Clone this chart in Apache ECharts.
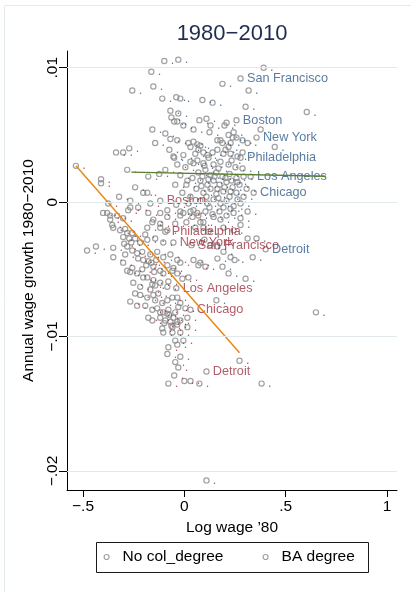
<!DOCTYPE html>
<html>
<head>
<meta charset="utf-8">
<script src="https://cdn.jsdelivr.net/npm/echarts@6/dist/echarts.min.js"></script>
<style>
  html, body { margin: 0; padding: 0; background: #ffffff; }
  #chart { width: 411px; height: 592px; }
</style>
</head>
<body>
<div id="chart"></div>
<script>
// Metro areas: log wage in 1980 vs annual wage growth 1980–2010, by education group.

const cityNames = ['San Francisco', 'Boston', 'New York', 'Philadelphia', 'Los Angeles', 'Chicago', 'Detroit'];

// Named metros, BA degree group
const baCityX = [0.277, 0.257, 0.356, 0.277, 0.327, 0.342, 0.401];
const baCityY = [0.0092, 0.0061, 0.0048, 0.0033, 0.0019, 0.0007, -0.0035];

// Named metros, no college degree group
const noColCityX = [0.035, -0.119, -0.054, -0.094, -0.040, 0.030, 0.109];
const noColCityY = [-0.0032, 0.0001, -0.0030, -0.0022, -0.0064, -0.0080, -0.0126];

// Remaining metros, BA degree group [log wage '80, annual growth]
const baPoints = [
  [-0.099,0.0105],[-0.030,0.0106],[0.391,0.0100],[-0.163,0.0097],[0.188,0.0088],[-0.257,0.0083],[-0.153,0.0086],
  [0.317,0.0083],[-0.109,0.0077],[-0.040,0.0078],[-0.020,0.0077],[0.089,0.0076],[0.139,0.0074],[0.302,0.0071],
  [0.604,0.0067],[-0.069,0.0068],[-0.030,0.0066],[-0.064,0.0063],[-0.050,0.0060],[-0.035,0.0060],[0.074,0.0061],
  [0.109,0.0062],[0.208,0.0059],[0.198,0.0057],[-0.005,0.0057],[0.045,0.0054],[0.129,0.0057],[0.124,0.0052],
  [-0.158,0.0054],[-0.094,0.0051],[-0.144,0.0044],[0.020,0.0044],[0.045,0.0045],[0.064,0.0043],[0.178,0.0046],
  [0.218,0.0050],[0.243,0.0052],[0.257,0.0048],[0.188,0.0044],[0.228,0.0044],[0.287,0.0046],[0.376,0.0054],
  [0.446,0.0041],[-0.069,0.0047],[-0.035,0.0046],[0.079,0.0042],[0.163,0.0046],[0.238,0.0048],[0.069,0.0039],
  [0.094,0.0037],[0.119,0.0033],[0.163,0.0039],[0.203,0.0039],[0.228,0.0036],[0.287,0.0037],[0.030,0.0030],
  [0.064,0.0031],[-0.005,0.0035],[-0.054,0.0034],[0.030,0.0041],[0.054,0.0036],[0.114,0.0035],[0.139,0.0037],
  [0.193,0.0036],[0.218,0.0041],[0.312,0.0044],[-0.035,0.0028],[0.005,0.0026],[0.045,0.0029],[0.094,0.0029],
  [0.144,0.0028],[0.178,0.0030],[0.218,0.0028],[0.252,0.0026],[0.287,0.0025],[0.069,0.0022],[0.104,0.0024],
  [0.129,0.0020],[0.158,0.0022],[0.188,0.0019],[0.223,0.0021],[0.257,0.0018],[0.292,0.0019],[0.040,0.0018],
  [0.079,0.0016],[0.114,0.0013],[0.144,0.0016],[0.173,0.0013],[0.208,0.0015],[0.238,0.0011],[0.272,0.0013],
  [0.307,0.0010],[0.059,0.0010],[0.094,0.0007],[0.129,0.0010],[0.158,0.0006],[0.193,0.0008],[0.223,0.0004],
  [0.257,0.0007],[0.292,0.0004],[0.079,0.0001],[0.114,-0.0001],[0.144,0.0002],[0.178,-0.0001],[0.208,0.0001],
  [0.243,-0.0003],[0.277,-0.0001],[0.030,0.0004],[0.010,0.0013],[0.104,-0.0007],[0.139,-0.0009],[0.173,-0.0007],
  [0.208,-0.0010],[0.243,-0.0008],[0.277,-0.0012],[0.312,-0.0007],[0.144,-0.0011],[0.178,-0.0013],[0.193,-0.0019],
  [0.243,-0.0021],[0.277,-0.0017],[0.356,-0.0027],[0.312,-0.0027],[0.163,-0.0033],[0.193,-0.0037],[0.228,-0.0041],
  [0.248,-0.0043],[0.337,-0.0041],[0.163,-0.0042],[0.188,-0.0048],[0.218,-0.0053],[0.302,-0.0057],[0.158,-0.0073],
  [0.649,-0.0082],[0.381,-0.0135],[0.020,-0.0001],[0.045,-0.0006],[0.069,-0.0010],[0.094,-0.0015],[0.054,-0.0019],
  [0.119,-0.0022],[0.099,-0.0028],[0.129,-0.0032],[-0.020,-0.0007],[0.010,-0.0015],[-0.020,0.0020],[0.015,0.0016],
  [-0.045,0.0013],[-0.010,0.0007],[-0.074,0.0039],[-0.050,0.0033],[-0.094,0.0024],[0.089,0.0019],[0.119,0.0017],
  [0.149,0.0019],[0.203,0.0018],[0.233,0.0016],[0.262,0.0015],[0.084,0.0012],[0.163,0.0010],[0.198,0.0011],
  [0.228,0.0008],[0.109,0.0004],[0.168,0.0003],[0.262,0.0002],[0.124,-0.0004],[0.193,-0.0004],[0.228,-0.0005],
  [0.099,0.0027],[0.168,0.0025],[0.233,0.0031],[0.262,0.0034]
];

// Remaining metros, no college degree group [log wage '80, annual growth]
const noColPoints = [
  [-0.535,0.0027],[-0.411,0.0017],[-0.411,0.0014],[-0.282,0.0024],[-0.178,0.0019],[-0.124,0.0021],[-0.243,0.0011],
  [-0.203,0.0007],[-0.183,0.0007],[-0.322,0.0004],[-0.168,-0.0001],[-0.267,0.0001],[-0.267,-0.0004],[-0.228,-0.0004],
  [-0.277,-0.0006],[-0.401,-0.0008],[-0.381,-0.0008],[-0.366,-0.0010],[-0.332,-0.0010],[-0.302,-0.0012],[-0.084,-0.0006],
  [-0.158,-0.0015],[-0.119,-0.0016],[-0.183,-0.0019],[-0.356,-0.0017],[-0.317,-0.0021],[-0.302,-0.0026],[-0.257,-0.0023],
  [-0.243,-0.0027],[-0.480,-0.0036],[-0.436,-0.0033],[-0.366,-0.0013],[-0.351,-0.0019],[-0.282,-0.0023],[-0.351,-0.0034],
  [-0.282,-0.0033],[-0.257,-0.0036],[-0.233,-0.0038],[-0.208,-0.0037],[-0.228,-0.0042],[-0.203,-0.0043],[-0.302,-0.0045],
  [-0.282,-0.0051],[-0.257,-0.0049],[-0.178,-0.0008],[-0.153,-0.0013],[-0.119,-0.0008],[-0.084,-0.0011],[-0.119,-0.0019],
  [-0.084,-0.0021],[-0.045,-0.0016],[-0.005,-0.0008],[0.030,-0.0007],[0.064,-0.0008],[-0.183,-0.0028],[-0.144,-0.0027],
  [-0.104,-0.0030],[-0.168,-0.0039],[-0.134,-0.0037],[-0.104,-0.0041],[-0.069,-0.0039],[-0.035,-0.0043],[-0.153,-0.0048],
  [-0.119,-0.0051],[-0.084,-0.0047],[-0.054,-0.0049],[0.045,-0.0043],[0.079,-0.0045],[0.104,-0.0048],[-0.183,-0.0056],
  [-0.153,-0.0058],[-0.119,-0.0060],[-0.079,-0.0059],[-0.035,-0.0053],[-0.168,-0.0065],[-0.129,-0.0068],[-0.252,-0.0060],
  [-0.218,-0.0063],[-0.267,-0.0074],[-0.233,-0.0077],[-0.193,-0.0077],[-0.158,-0.0080],[-0.119,-0.0082],[-0.084,-0.0083],
  [-0.030,-0.0078],[0.005,-0.0079],[-0.351,-0.0041],[-0.292,-0.0039],[-0.188,-0.0047],[-0.020,-0.0045],[0.069,-0.0047],
  [-0.267,-0.0052],[-0.233,-0.0053],[-0.203,-0.0056],[-0.104,-0.0053],[-0.059,-0.0051],[-0.010,-0.0057],[0.020,-0.0056],
  [-0.158,-0.0061],[-0.144,-0.0062],[-0.084,-0.0063],[-0.243,-0.0068],[-0.218,-0.0069],[-0.183,-0.0071],[-0.153,-0.0069],
  [-0.144,-0.0073],[-0.109,-0.0075],[-0.084,-0.0073],[-0.059,-0.0071],[-0.035,-0.0071],[-0.020,-0.0075],[-0.134,-0.0079],
  [-0.104,-0.0082],[-0.079,-0.0080],[-0.045,-0.0082],[-0.178,-0.0086],[-0.158,-0.0088],[-0.119,-0.0086],[-0.094,-0.0088],
  [-0.069,-0.0089],[-0.054,-0.0086],[-0.035,-0.0089],[-0.020,-0.0088],[0.015,-0.0086],[-0.109,-0.0094],[-0.059,-0.0093],
  [-0.035,-0.0091],[-0.059,-0.0097],[-0.020,-0.0097],[-0.005,-0.0103],[-0.045,-0.0103],[-0.079,-0.0108],[-0.035,-0.0106],
  [-0.104,-0.0097],[0.015,-0.0093],[-0.084,-0.0113],[-0.020,-0.0115],[-0.045,-0.0119],[-0.030,-0.0123],[-0.050,-0.0129],
  [-0.079,-0.0135],[0.000,-0.0133],[0.030,-0.0133],[0.074,-0.0135],[0.272,-0.0118],[0.109,-0.0207],[-0.040,-0.0002],
  [-0.020,-0.0010],[0.040,-0.0011],[0.079,-0.0015],[0.094,-0.0019],[-0.337,0.0037],[-0.302,0.0037],[-0.272,0.0040],
  [-0.375,-0.0001],[-0.292,-0.0020],[-0.272,-0.0027],[-0.262,-0.0030],[-0.297,-0.0031],[-0.178,-0.0044],[-0.163,-0.0045],
  [-0.139,-0.0043],[-0.149,-0.0052],[-0.099,-0.0090],[-0.074,-0.0084],[-0.064,-0.0092],[-0.208,-0.0050],[-0.218,-0.0030],
  [-0.193,-0.0024]
];

// Linear fits for each group: endpoints span each group's range of log wage
const noColFitX = [-0.535, 0.272];
const noColFitY = [0.0027, -0.0112];
const baFitX = [-0.262, 0.698];
const baFitY = [0.00223, 0.00193];

// Axis ticks
const xTickValues = [-0.5, 0, 0.5, 1];
const xTickLabels = ['\u2212.5', '0', '.5', '1'];
const yTickValues = [0.01, 0, -0.01, -0.02];
const yTickLabels = ['.01', '0', '\u2212.01', '\u2212.02'];

const FONT = '"Liberation Sans", Arial, Helvetica, sans-serif';
const RED = '#9e3341';
const BLUE = '#2f5b8b';
const MARKER = '#8a8a8a';

function buildData(points, cityX, cityY) {
  const data = points.map(p => ({ value: [p[0], p[1]] }));
  cityNames.forEach((name, i) => data.push({ value: [cityX[i], cityY[i]], name: name }));
  return data;
}

function tickLabel(values, labels) {
  return v => {
    const i = values.findIndex(t => Math.abs(t - v) < 1e-9);
    return i >= 0 ? labels[i] : '';
  };
}

function scatterSeries(name, data, color) {
  return {
    name: name,
    type: 'scatter',
    data: data,
    symbol: 'circle',
    symbolSize: 5.2,
    itemStyle: { color: 'rgba(255,255,255,0)', borderColor: MARKER, borderWidth: 1.2 },
    label: {
      show: true,
      position: 'right',
      distance: 3.2,
      formatter: p => p.name ? p.name : '.',
      color: color,
      fontFamily: FONT,
      fontSize: 12.7
    },
    emphasis: { disabled: true },
    z: 2
  };
}

const legendStyle = {
  padding: 0,
  itemWidth: 22, itemHeight: 5,
  icon: 'circle',
  itemStyle: { color: 'rgba(255,255,255,0)', borderColor: MARKER, borderWidth: 1.2 },
  textStyle: { fontFamily: FONT, fontSize: 15.5, color: '#000', lineHeight: 18 },
  selectedMode: false
};

const chart = echarts.init(document.getElementById('chart'), null, { renderer: 'canvas' });

chart.setOption({
  animation: false,
  backgroundColor: '#ffffff',
  title: {
    text: '1980\u22122010',
    left: 232,
    top: 23,
    padding: 0,
    textAlign: 'center',
    textStyle: { fontFamily: FONT, fontSize: 22, fontWeight: 'normal', color: '#1f2d50' }
  },
  graphic: [
    {
      type: 'rect',
      shape: { x: 4.5, y: 5.5, width: 440, height: 620 },
      style: { fill: 'none', stroke: '#e2eaee', lineWidth: 1 },
      silent: true
    },
    {
      type: 'rect',
      shape: { x: 96.5, y: 542.5, width: 272, height: 30 },
      style: { fill: 'none', stroke: '#1a1a1a', lineWidth: 1 },
      silent: true
    }
  ],
  legend: [
    Object.assign({ data: ['No col_degree'], left: 103.5, top: 548 }, legendStyle),
    Object.assign({ data: ['BA degree'], left: 262.5, top: 548 }, legendStyle)
  ],
  grid: { left: 67, top: 51, right: 14, bottom: 102 },
  xAxis: {
    type: 'value',
    min: -0.579,
    max: 1.049,
    name: 'Log wage \u201980',
    nameLocation: 'middle',
    nameGap: 22,
    nameTextStyle: { fontFamily: FONT, fontSize: 15.5, color: '#000' },
    axisLine: { show: true, onZero: false, lineStyle: { color: '#000', width: 1 } },
    axisTick: { show: true, length: 7, customValues: xTickValues, lineStyle: { color: '#000' } },
    axisLabel: {
      customValues: xTickValues,
      formatter: tickLabel(xTickValues, xTickLabels),
      margin: 9,
      fontFamily: FONT, fontSize: 15.5, color: '#000'
    },
    splitLine: { show: false }
  },
  yAxis: {
    type: 'value',
    min: -0.021413,
    max: 0.011242,
    name: 'Annual wage growth 1980\u22122010',
    nameLocation: 'middle',
    nameGap: 2,
    nameTextStyle: { fontFamily: FONT, fontSize: 15.5, color: '#000' },
    axisLine: { show: true, onZero: false, lineStyle: { color: '#000', width: 1 } },
    axisTick: { show: true, length: 8, customValues: yTickValues, lineStyle: { color: '#000' } },
    axisLabel: {
      customValues: yTickValues,
      formatter: tickLabel(yTickValues, yTickLabels),
      rotate: 90,
      margin: 6,
      fontFamily: FONT, fontSize: 15.5, color: '#000'
    },
    splitLine: { show: false }
  },
  series: [
    {
      name: 'gridlines',
      type: 'scatter',
      data: [],
      silent: true,
      z: 1,
      markLine: {
        silent: true,
        symbol: ['none', 'none'],
        label: { show: false },
        lineStyle: { color: '#e1e9ed', width: 1, type: 'solid' },
        data: yTickValues.map(v => ({ yAxis: v }))
      }
    },
    scatterSeries('No col_degree', buildData(noColPoints, noColCityX, noColCityY), RED),
    scatterSeries('BA degree', buildData(baPoints, baCityX, baCityY), BLUE),
    {
      name: 'fit no col',
      type: 'line',
      data: noColFitX.map((x, i) => [x, noColFitY[i]]),
      symbol: 'none',
      lineStyle: { color: '#e8860d', width: 1.4 },
      silent: true,
      z: 3
    },
    {
      name: 'fit BA',
      type: 'line',
      data: baFitX.map((x, i) => [x, baFitY[i]]),
      symbol: 'none',
      lineStyle: { color: '#5b7f2c', width: 1.4 },
      silent: true,
      z: 3
    }
  ]
});
</script>
</body>
</html>
